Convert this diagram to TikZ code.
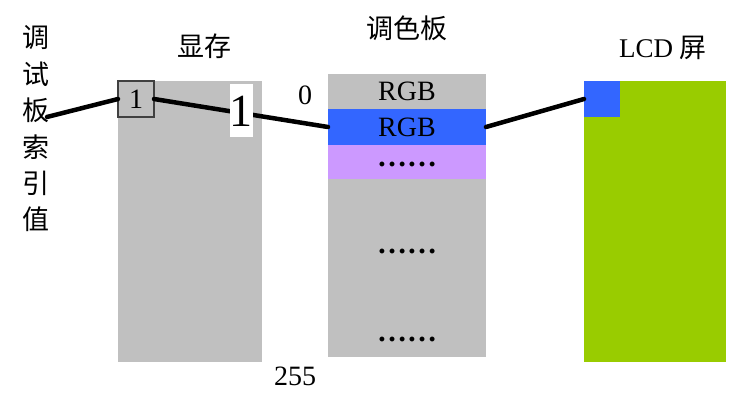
\documentclass[tikz,border=0pt]{standalone}
\usepackage{fontspec}
\setmainfont{Liberation Serif}
\newfontfamily\cjk{Noto Sans CJK SC}
\definecolor{memgray}{HTML}{C0C0C0}
\definecolor{selblue}{HTML}{3366FF}
\definecolor{lilac}{HTML}{CC99FF}
\definecolor{lcdgreen}{HTML}{99CC00}
\begin{document}
\begin{tikzpicture}[x=1pt,y=-1pt,
  lbl/.style={font=\fontsize{28}{30}\selectfont, inner sep=0pt},
  zh/.style={font=\cjk\fontsize{27}{30}\selectfont, inner sep=0pt},
  dotsl/.style={font=\fontsize{30}{30}\selectfont\bfseries, inner sep=0pt},
  block/.style={draw=none, inner sep=0pt, outer sep=0pt, anchor=north west},
  band/.style={draw=none, inner sep=0pt, outer sep=0pt, anchor=north west, minimum width=158pt},
  wire/.style={line width=4.5pt, line cap=round}]
\useasboundingbox (0,0) rectangle (731,398);
% titles
\node[zh, align=center, font=\cjk\fontsize{27}{36.4}\selectfont] (idx) at (36,129) {调\\试\\板\\索\\引\\值};
\node[zh] (vramt) at (204,46) {显存};
\node[zh] (palt) at (407,28) {调色板};
\node[lbl, font=\fontsize{27}{30}\selectfont] (lcdt) at (663,48) {LCD {\cjk 屏}};
% VRAM
\node[block, fill=memgray, minimum width=144pt, minimum height=281pt] (vram) at (118,81) {};
% palette
\node[block, fill=memgray, minimum width=158pt, minimum height=283pt] (pal) at (328,74) {};
\node[band, minimum height=35pt] (rgb1) at (328,74) {};
\node[lbl] at (rgb1.center) {RGB};
\node[band, fill=selblue, minimum height=36pt] (rgb2) at (328,109) {};
\node[lbl] at (rgb2.center) {RGB};
\node[band, fill=lilac, minimum height=34pt] (dots1) at (328,145) {};
\node[dotsl] at (407,164) {……};
\node[dotsl] (dots2) at (407,251) {……};
\node[dotsl] (dots3) at (407,339) {……};
\node[lbl] (zero) at (305,95) {0};
\node[lbl] (last) at (295,376) {255};
% LCD
\node[block, fill=lcdgreen, minimum width=142pt, minimum height=281pt] (lcd) at (584,81) {};
\node[block, fill=selblue, minimum width=36pt, minimum height=36pt] (pix) at (584,81) {};
% connectors
\coordinate (src) at (47,117);
\node[block, fill=memgray, draw=black!75, line width=1.2pt, minimum width=36pt, minimum height=36pt] (cell) at (118,81) {};
\draw[wire] (src) -- (cell.west);
\draw[wire] (cell.east) -- (rgb2.west);
\draw[wire] (rgb2.east) -- (pix.west);
\node[lbl] at (cell.center) {1};
\node[fill=white, inner sep=0pt, minimum width=22pt, minimum height=53pt, font=\fontsize{46}{46}\selectfont] (big) at (241,111) {1};
\end{tikzpicture}
\end{document}
